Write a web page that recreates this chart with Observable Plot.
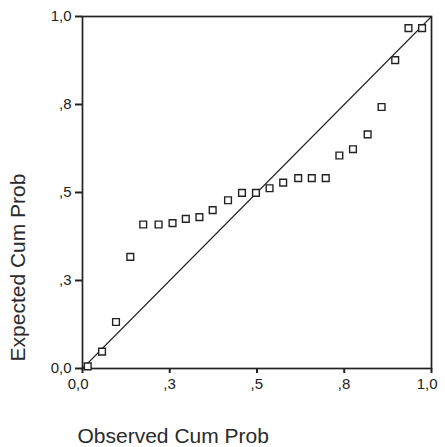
<!DOCTYPE html>
<html>
<head>
<meta charset="utf-8">
<script src="https://cdn.jsdelivr.net/npm/d3@7"></script>
<script src="https://cdn.jsdelivr.net/npm/@observablehq/plot@0.6"></script>
<style>
  html, body { margin: 0; padding: 0; background: #ffffff; }
</style>
</head>
<body>
<div id="chart"></div>
<script>
// Observed cumulative probability (x) and expected cumulative probability (y)
const observed = [0.015, 0.056, 0.096, 0.137, 0.174, 0.218, 0.258, 0.296, 0.335, 0.373,
                  0.417, 0.457, 0.497, 0.536, 0.575, 0.618, 0.657, 0.697, 0.736, 0.775,
                  0.817, 0.857, 0.896, 0.934, 0.973];
const expected = [0.006, 0.048, 0.132, 0.317, 0.409, 0.409, 0.413, 0.425, 0.430, 0.450,
                  0.478, 0.499, 0.499, 0.512, 0.528, 0.541, 0.541, 0.541, 0.605, 0.623,
                  0.665, 0.743, 0.876, 0.967, 0.967];
const tickValues = [0, 0.25, 0.5, 0.75, 1];
const tickLabels = ["0,0", ",3", ",5", ",8", "1,0"];
const diagonal = [0, 1];
const xTitle = "Observed Cum Prob";
const yTitle = "Expected Cum Prob";

const points = observed.map((x, i) => ({x, y: expected[i]}));
const fmt = d => tickLabels[tickValues.indexOf(d)];
const noLabel = () => null;

const chart = Plot.plot({
  width: 445,
  height: 447,
  marginLeft: 82,
  marginRight: 14,
  marginTop: 16,
  marginBottom: 79,
  x: {domain: [0, 1]},
  y: {domain: [0, 1]},
  style: {
    fontFamily: "'Liberation Sans', Arial, sans-serif",
    fontSize: "15px",
    color: "#222",
    background: "#ffffff"
  },
  marks: [
    Plot.frame({stroke: "#222", strokeWidth: 1.7}),
    // tick marks only
    Plot.axisX({ticks: tickValues, tickFormat: noLabel, tickSize: 5, stroke: "#222",
                strokeWidth: 2, label: null}),
    Plot.axisY({ticks: tickValues, tickFormat: noLabel, tickSize: 7, stroke: "#222",
                strokeWidth: 2, label: null}),
    // tick labels only
    Plot.axisX({ticks: tickValues, tickFormat: fmt, tickSize: 0, tickPadding: 10,
                textAnchor: "end", dx: 6, label: null, fontSize: 15, fill: "#222"}),
    Plot.axisY({ticks: tickValues, tickFormat: fmt, tickSize: 0, tickPadding: 11,
                label: null, fontSize: 15, fill: "#222"}),
    Plot.line(diagonal, {x: d => d, y: d => d, stroke: "#222", strokeWidth: 1.1}),
    Plot.dot(points, {x: "x", y: "y", symbol: "square", r: 3.8, fill: "#ffffff",
                      stroke: "#222", strokeWidth: 1.4}),
    Plot.text([xTitle], {text: d => d, frameAnchor: "bottom-left", dx: -5, dy: 74,
                         textAnchor: "start", lineAnchor: "bottom", fontSize: 21, fill: "#2a2a2a"}),
    Plot.text([yTitle], {text: d => d, frameAnchor: "left", rotate: -90, dx: -58, dy: 75,
                         textAnchor: "middle", lineAnchor: "bottom", fontSize: 21, fill: "#2a2a2a"})
  ]
});
document.getElementById("chart").appendChild(chart);
</script>
</body>
</html>
